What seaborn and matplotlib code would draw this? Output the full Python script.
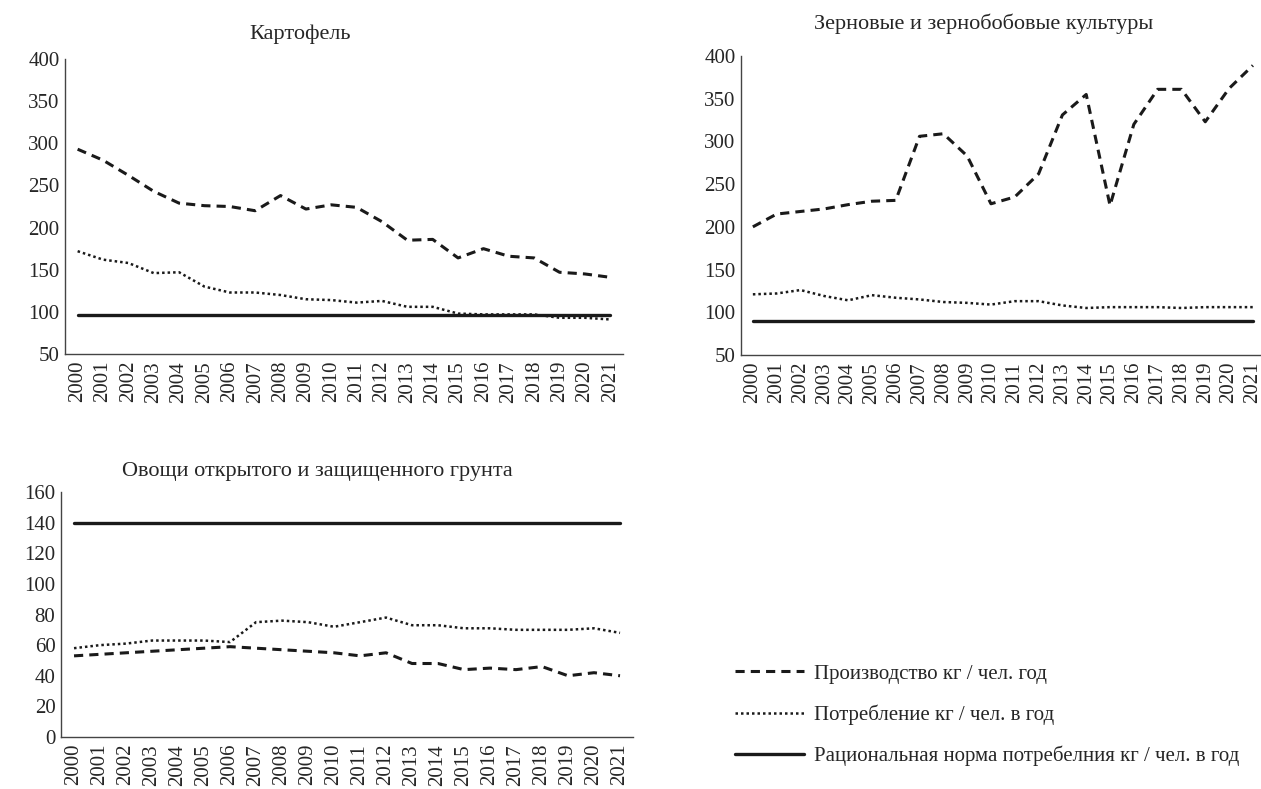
import numpy as np
import pandas as pd
import seaborn as sns
import matplotlib.pyplot as plt
from matplotlib.lines import Line2D
from matplotlib.ticker import FixedLocator

years = [str(y) for y in range(2000, 2022)]

# Картофель
potato_prod = [293, 280, 262, 243, 229, 226, 225, 220, 238, 222, 227, 224,
               207, 185, 186, 164, 175, 166, 164, 147, 145, 141]
potato_cons = [172, 162, 158, 146, 147, 130, 123, 123, 120, 115, 114, 111,
               113, 106, 106, 98, 97, 97, 97, 93, 93, 91]
potato_norm = [96] * 22

# Зерновые и зернобобовые культуры
grain_prod = [200, 215, 218, 221, 226, 230, 231, 306, 309, 283, 227, 235,
              262, 331, 355, 225, 320, 361, 361, 323, 362, 389]
grain_cons = [121, 122, 126, 119, 114, 120, 117, 115, 112, 111, 109, 113,
              113, 108, 105, 106, 106, 106, 105, 106, 106, 106]
grain_norm = [90] * 22

# Овощи открытого и защищенного грунта
veg_prod = [53, 54, 55, 56, 57, 58, 59, 58, 57, 56, 55, 53,
            55, 48, 48, 44, 45, 44, 46, 40, 42, 40]
veg_cons = [58, 60, 61, 63, 63, 63, 62, 75, 76, 75, 72, 75,
            78, 73, 73, 71, 71, 70, 70, 70, 71, 68]
veg_norm = [140] * 22

labels = ['Производство кг / чел. год',
          'Потребление кг / чел. в год',
          'Рациональная норма потребелния кг / чел. в год']

sns.set_style('white')
plt.rcParams['font.family'] = ['Liberation Serif', 'DejaVu Serif']
plt.rcParams['font.size'] = 15

fig = plt.figure(figsize=(12.61, 7.89), dpi=100)

styles = [
    dict(linestyle=(0, (3, 2)), lw=2.2),
    dict(linestyle=(0, (1, 1.2)), lw=1.8),
    dict(linestyle='-', lw=2.4),
]

def draw(rect, series, ylim, yticks, title, title_xy):
    ax = fig.add_axes(rect)
    idx = np.arange(len(years))
    for vals, st in zip(series, styles):
        sns.lineplot(x=idx, y=vals, ax=ax, color='#1a1a1a', **st)
    ax.set_xlim(-0.5, len(years) - 0.5)
    ax.set_ylim(*ylim)
    ax.set_yticks(yticks)
    ax.set_xticks(idx)
    ax.set_xticklabels(years, rotation=90)
    ax.xaxis.set_minor_locator(FixedLocator(np.arange(-0.5, len(years), 1)))
    ax.tick_params(axis='x', which='major', length=0, pad=5, labelsize=15)
    ax.tick_params(axis='x', which='minor', length=5, width=1, color='#444444', direction='in')
    ax.tick_params(axis='y', length=5, width=1, color='#444444', direction='in', pad=4, labelsize=15)
    for s in ['top', 'right']:
        ax.spines[s].set_visible(False)
    for s in ['left', 'bottom']:
        ax.spines[s].set_color('#444444')
        ax.spines[s].set_linewidth(1)
    ax.set_xlabel('')
    ax.set_ylabel('')
    ax.grid(False)
    fig.text(title_xy[0], title_xy[1], title, ha='center', va='center', fontsize=16)
    return ax

draw([0.0515, 0.5513, 0.4425, 0.3739], [potato_prod, potato_cons, potato_norm],
     (50, 400), range(50, 401, 50), 'Картофель', (0.238, 0.956))
draw([0.5876, 0.5501, 0.4154, 0.3789], [grain_prod, grain_cons, grain_norm],
     (50, 400), range(50, 401, 50), 'Зерновые и зернобобовые культуры', (0.780, 0.970))
draw([0.0484, 0.0659, 0.4536, 0.3105], [veg_prod, veg_cons, veg_norm],
     (0, 160), range(0, 161, 20), 'Овощи открытого и защищенного грунта', (0.252, 0.403))

handles = [Line2D([], [], color='#1a1a1a', **st) for st in styles]
fig.legend(handles, labels, loc='upper left', bbox_to_anchor=(735 / 1261, 1 - 664 / 789),
           frameon=False, fontsize=15, handlelength=3.3, handletextpad=0.5,
           labelspacing=1.0, borderpad=0, borderaxespad=0)

fig.savefig('out.png', dpi=100)
